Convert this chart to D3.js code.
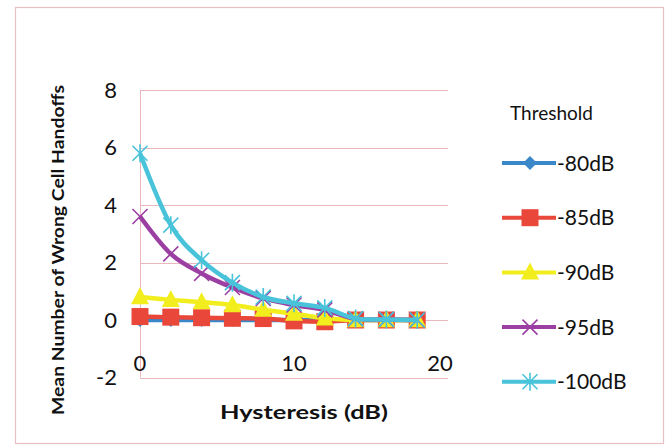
<!DOCTYPE html>
<html>
<head>
<meta charset="utf-8">
<script src="https://cdn.jsdelivr.net/npm/d3@7"></script>
<style>
    body { margin: 0; background: #fff; }
    text { font-family: Lato, "Open Sans", sans-serif; fill: #111; }
    .grid { stroke: #e9b7bc; stroke-width: 1; fill: none; }
    .frame { stroke: #e8c0c4; stroke-width: 1.2; fill: none; }
</style>
</head>
<body>
<svg id="chart" width="666" height="447"></svg>
<script>
"use strict";

// hysteresis values (dB)
var hysteresis = [0, 2, 4, 6, 8, 10, 12, 14, 16, 18];

// mean number of wrong cell handoffs per threshold
var th80 = [0, 0, 0, 0, 0, 0, 0, 0, 0, 0];
var th85 = [0.12, 0.1, 0.08, 0.06, 0.05, -0.03, -0.06, 0, 0, 0];
var th90 = [0.8, 0.7, 0.62, 0.52, 0.36, 0.22, 0.06, 0, 0, 0];
var th95 = [3.6, 2.3, 1.62, 1.13, 0.75, 0.52, 0.35, 0.04, 0.02, 0];
var th100 = [5.8, 3.3, 2.08, 1.3, 0.8, 0.58, 0.42, 0.05, 0.02, 0];

var seriesNames = ["-80dB", "-85dB", "-90dB", "-95dB", "-100dB"];
var seriesValues = [th80, th85, th90, th95, th100];
var seriesColors = ["#3a87c9", "#e8473a", "#f2ee1e", "#9c3fa3", "#48c3d9"];
var seriesMarkers = ["diamond", "square", "triangle", "x", "star"];

var xTicks = [0, 10, 20];
var yTicks = [-2, 0, 2, 4, 6, 8];

var svg = d3.select("#chart");

// outer frame
svg.append("rect")
    .attr("class", "frame")
    .attr("x", 15.5)
    .attr("y", 7.5)
    .attr("width", 648)
    .attr("height", 436);

var x = d3.scaleLinear().domain([0, 20]).range([140, 448]);
var y = d3.scaleLinear().domain([-2, 8]).range([377.5, 90]);

// gridlines
svg.append("g")
    .selectAll("line")
    .data(yTicks)
    .enter().append("line")
    .attr("class", "grid")
    .attr("x1", x(0))
    .attr("x2", x(20))
    .attr("y1", function (d) { return Math.round(y(d)) + 0.5; })
    .attr("y2", function (d) { return Math.round(y(d)) + 0.5; });

svg.append("line")
    .attr("class", "grid")
    .attr("x1", x(0) + 0.5)
    .attr("x2", x(0) + 0.5)
    .attr("y1", y(8))
    .attr("y2", y(-2));

// tick labels
svg.append("g")
    .selectAll("text")
    .data(yTicks)
    .enter().append("text")
    .attr("x", 117)
    .attr("y", function (d) { return y(d); })
    .attr("dy", "0.36em")
    .attr("text-anchor", "end")
    .style("font-size", "22px")
    .text(function (d) { return d; });

svg.append("g")
    .selectAll("text")
    .data(xTicks)
    .enter().append("text")
    .attr("x", function (d) { return d === 20 ? x(d) - 8 : x(d); })
    .attr("y", 363)
    .attr("dy", "0.36em")
    .attr("text-anchor", "middle")
    .style("font-size", "22px")
    .text(function (d) { return d; });

// axis titles
svg.append("text")
    .attr("x", 304)
    .attr("y", 419)
    .attr("text-anchor", "middle")
    .attr("textLength", 168)
    .attr("lengthAdjust", "spacingAndGlyphs")
    .style("font-size", "19px")
    .style("font-weight", "bold")
    .text("Hysteresis (dB)");

svg.append("text")
    .attr("transform", "translate(64,250) rotate(-90)")
    .attr("text-anchor", "middle")
    .attr("textLength", 330)
    .attr("lengthAdjust", "spacingAndGlyphs")
    .style("font-size", "17px")
    .style("font-weight", "bold")
    .text("Mean Number of Wrong Cell Handoffs");

// marker shapes, r is half the size
function markerPath(type, r) {
    switch (type) {
    case "diamond":
        return "M0," + (-r) + "L" + r + ",0L0," + r + "L" + (-r) + ",0Z";
    case "square":
        return "M" + (-r) + "," + (-r) + "H" + r + "V" + r + "H" + (-r) + "Z";
    case "triangle":
        return "M0," + (-r * 1.1) + "L" + r + "," + (r * 0.8) + "L" + (-r) + "," + (r * 0.8) + "Z";
    case "x":
        return "M" + (-r) + "," + (-r) + "L" + r + "," + r +
            "M" + (-r) + "," + r + "L" + r + "," + (-r);
    default:
        return "M" + (-r) + "," + (-r) + "L" + r + "," + r +
            "M" + (-r) + "," + r + "L" + r + "," + (-r) +
            "M0," + (-r * 1.2) + "V" + (r * 1.2);
    }
}
var markerSize = { diamond: 7, square: 8.5, triangle: 9, x: 7.5, star: 7.5 };

function drawMarker(sel, type, color) {
    var filled = type === "diamond" || type === "square" || type === "triangle";
    sel.attr("d", markerPath(type, markerSize[type]))
        .attr("fill", filled ? color : "none")
        .attr("stroke", color)
        .attr("stroke-width", filled ? 0 : 1.6);
}

var line = d3.line()
    .x(function (d) { return x(d.h); })
    .y(function (d) { return y(d.v); })
    .curve(d3.curveCardinal.tension(0));

var series = seriesNames.map(function (name, i) {
    return {
        name: name,
        color: seriesColors[i],
        marker: seriesMarkers[i],
        points: hysteresis.map(function (h, j) { return { h: h, v: seriesValues[i][j] }; })
    };
});

var groups = svg.append("g")
    .selectAll("g")
    .data(series)
    .enter().append("g");

groups.append("path")
    .attr("d", function (d) { return line(d.points); })
    .attr("fill", "none")
    .attr("stroke", function (d) { return d.color; })
    .attr("stroke-width", 4.5)
    .attr("stroke-linejoin", "round");

groups.each(function (s) {
    d3.select(this).selectAll("path.marker")
        .data(s.points)
        .enter().append("path")
        .attr("class", "marker")
        .attr("transform", function (d) { return "translate(" + x(d.h) + "," + y(d.v) + ")"; })
        .call(drawMarker, s.marker, s.color);
});

// legend
svg.append("text")
    .attr("x", 510)
    .attr("y", 113)
    .attr("dy", "0.36em")
    .style("font-size", "19px")
    .text("Threshold");

var legend = svg.append("g")
    .selectAll("g")
    .data(series)
    .enter().append("g")
    .attr("transform", function (d, i) { return "translate(0," + (163 + i * 54.7) + ")"; });

legend.append("line")
    .attr("x1", 502)
    .attr("x2", 556)
    .attr("stroke", function (d) { return d.color; })
    .attr("stroke-width", 4);

legend.each(function (s) {
    d3.select(this).append("path")
        .attr("transform", "translate(530,0)")
        .call(drawMarker, s.marker, s.color);
});

legend.append("text")
    .attr("x", 557)
    .attr("dy", "0.36em")
    .style("font-size", "21px")
    .text(function (d) { return d.name; });
</script>
</body>
</html>
